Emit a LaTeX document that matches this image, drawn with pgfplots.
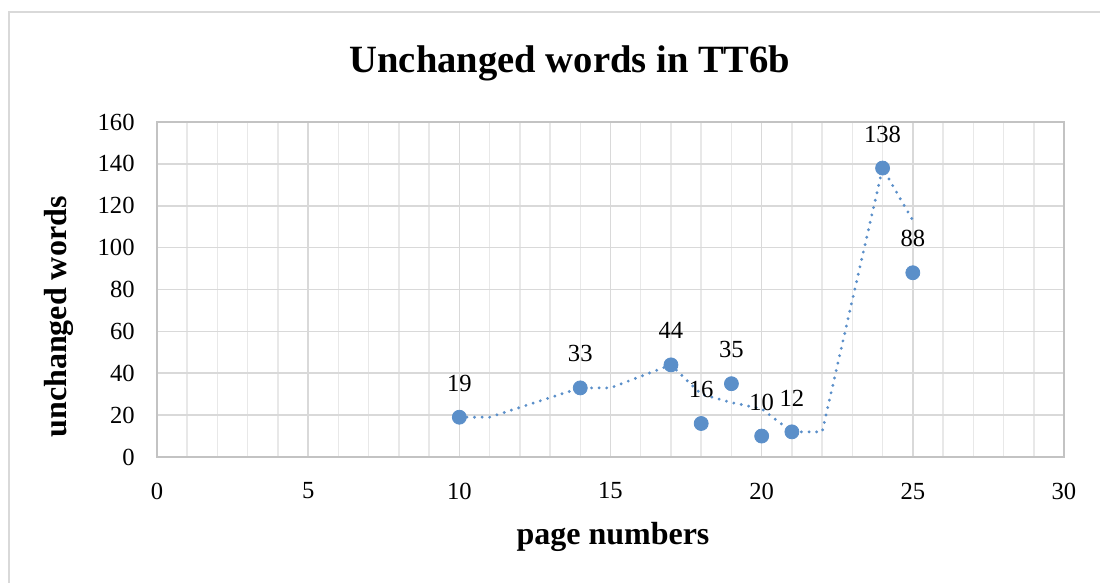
\documentclass[border=0pt]{standalone}
\usepackage{fontspec}
\setmainfont{Liberation Serif}
\usepackage{pgfplots}
\pgfplotsset{compat=1.18}
\definecolor{ptblue}{RGB}{91,143,201}
\definecolor{majgrid}{RGB}{217,217,217}
\definecolor{mingrid}{RGB}{232,232,232}

\begin{document}
\begin{tikzpicture}
% canvas of 1100x583 px, 1 px = 0.5pt
\useasboundingbox (0,0) rectangle (550pt,291.5pt);
\draw[majgrid, line width=0.8pt] (4.5pt,-10pt) -- (4.5pt,285.5pt) -- (560pt,285.5pt);

\begin{axis}[
  at={(78.5pt,63pt)}, anchor=south west,
  scale only axis,
  width=453.5pt, height=167.5pt,
  xmin=0, xmax=30, ymin=0, ymax=160,
  xtick={0,5,...,30}, ytick={0,20,...,160},
  minor x tick num=4,
  grid=both,
  major grid style={majgrid, line width=0.8pt},
  minor grid style={mingrid, line width=0.75pt},
  axis line style={majgrid!90!black, line width=0.8pt},
  major tick length=0pt, minor tick length=0pt,
  /pgf/number format/assume math mode=true,
  tick label style={font=\fontsize{12.3}{14}\selectfont},
  xticklabel style={anchor=center, yshift=-17pt},
  yticklabel style={inner sep=0pt, xshift=-11pt},
  clip=false,
]
% dotted trendline
\addplot[ptblue, line width=1.6pt, line cap=round, dash pattern=on 0pt off 3.8pt]
  coordinates {(10,19)(11,19)(14,33)(15,33)(17,44)(18,30)(19,26)(20,23)(21,12)(22,12)(24,138)(25,113)};
% data points
\addplot[only marks, mark=*, mark size=3.5pt, mark options={fill=ptblue, draw=ptblue},
  nodes near coords, point meta=explicit symbolic,
  every node near coord/.append style={anchor=center, yshift=17pt, font=\fontsize{12.3}{14}\selectfont, text=black}]
  coordinates {(10,19)[19] (14,33)[33] (17,44)[44] (18,16)[16] (19,35)[35]
               (20,10)[10] (21,12)[12] (24,138)[138] (25,88)[88]};
\end{axis}

\node[font=\fontsize{19.3}{22}\selectfont\bfseries] at (285pt,260pt) {Unchanged words in TT6b};
\node[font=\fontsize{16}{19}\selectfont\bfseries] at (306.5pt,23pt) {page numbers};
\node[font=\fontsize{16}{19}\selectfont\bfseries, rotate=90] at (29.5pt,133pt) {unchanged words};
\end{tikzpicture}
\end{document}
